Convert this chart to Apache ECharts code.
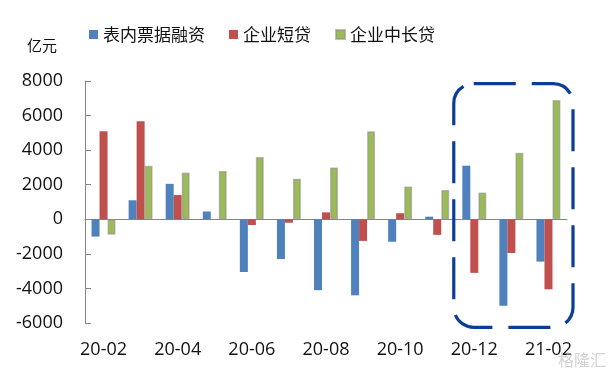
<!DOCTYPE html>
<html>
<head>
<meta charset="utf-8">
<script src="https://cdn.jsdelivr.net/npm/echarts@6/dist/echarts.min.js"></script>
<style>
  html, body { margin: 0; padding: 0; background: #fff; }
  #main { width: 614px; height: 376px; }
</style>
</head>
<body>
<div id="main"></div>
<script>
const months = ['20-02', '20-03', '20-04', '20-05', '20-06', '20-07', '20-08',
  '20-09', '20-10', '20-11', '20-12', '21-01', '21-02'];
const billFinancing = [-1000, 1100, 2050, 450, -3050, -2300, -4100, -4400, -1300, 150, 3100, -5000, -2450];
const shortLoans = [5100, 5670, 1400, 0, -330, -200, 400, -1250, 350, -900, -3100, -1950, -4050];
const longLoans = [-900, 3100, 2700, 2800, 3600, 2350, 3000, 5100, 1900, 1700, 1550, 3850, 6900];
const yTicks = [-6000, 8000, 2000];
const unitLabel = '亿元';

const chart = echarts.init(document.getElementById('main'));
const axisGray = '#868686';
const cjk = '"Noto Sans CJK SC", sans-serif';
const num = '"Open Sans", sans-serif';

const option = {
  animation: false,
  grid: { left: 85, right: 47, top: 81, bottom: 53 },
  legend: {
    top: 21,
    left: 84,
    icon: 'rect',
    itemWidth: 9,
    itemHeight: 9,
    itemGap: 24,
    textStyle: { fontFamily: cjk, fontSize: 17, color: '#111' },
    data: ['表内票据融资', '企业短贷', '企业中长贷']
  },
  xAxis: [
    {
      type: 'category',
      data: months,
      position: 'bottom',
      axisLine: { onZero: true, lineStyle: { color: axisGray, width: 1 } },
      axisTick: { inside: true, length: 6, interval: 1, lineStyle: { color: axisGray } },
      axisLabel: { show: false }
    },
    {
      type: 'category',
      data: months,
      position: 'bottom',
      axisLine: { show: false },
      axisTick: { show: false },
      axisLabel: { interval: 1, margin: 18, fontFamily: num, fontSize: 18, color: '#111' }
    }
  ],
  yAxis: {
    type: 'value',
    min: yTicks[0],
    max: yTicks[1],
    interval: yTicks[2],
    splitLine: { show: false },
    axisLine: { show: true, lineStyle: { color: axisGray } },
    axisTick: { show: true, inside: true, length: 6, lineStyle: { color: axisGray } },
    axisLabel: { margin: 22, fontFamily: num, fontSize: 18, color: '#111', formatter: v => String(v) }
  },
  series: [
    {
      name: '表内票据融资', type: 'bar', data: billFinancing,
      barWidth: 8, barGap: '0%',
      itemStyle: { color: '#4F81BD' }
    },
    {
      name: '企业短贷', type: 'bar', data: shortLoans,
      barWidth: 8, barGap: '0%',
      itemStyle: { color: '#C0504D' }
    },
    {
      name: '企业中长贷', type: 'bar', data: longLoans,
      barWidth: 8, barGap: '0%',
      itemStyle: { color: '#9BBB59', borderColor: 'rgba(140,140,140,0.55)', borderWidth: 1.5 }
    }
  ]
};

chart.setOption(option);

// dashed highlight box around the last three months
const xL = chart.convertToPixel({ xAxisIndex: 0 }, months[10]);
const xR = chart.convertToPixel({ xAxisIndex: 0 }, months[12]);
const half = (xR - xL) / 4;
const yTop = chart.convertToPixel({ yAxisIndex: 0 }, 7850);
const yBot = chart.convertToPixel({ yAxisIndex: 0 }, -6250);
chart.setOption({
  graphic: [
    {
      type: 'rect',
      shape: { x: xL - half - 2, y: yTop, width: (xR - xL) + 2 * half + 8, height: yBot - yTop, r: 20 },
      style: { fill: 'none', stroke: '#0B3E98', lineWidth: 3.2, lineDash: [42, 16] },
      z: 10
    },
    {
      type: 'text',
      left: 27, top: 38,
      style: { text: unitLabel, fill: '#111', font: '15px "Noto Sans CJK SC"' }
    },
    {
      type: 'text',
      right: 8, bottom: 8,
      style: { text: '格隆汇', fill: 'rgba(180,180,180,0.6)', font: '16px "Noto Sans CJK SC"' },
      z: 11
    }
  ]
});
</script>
</body>
</html>
